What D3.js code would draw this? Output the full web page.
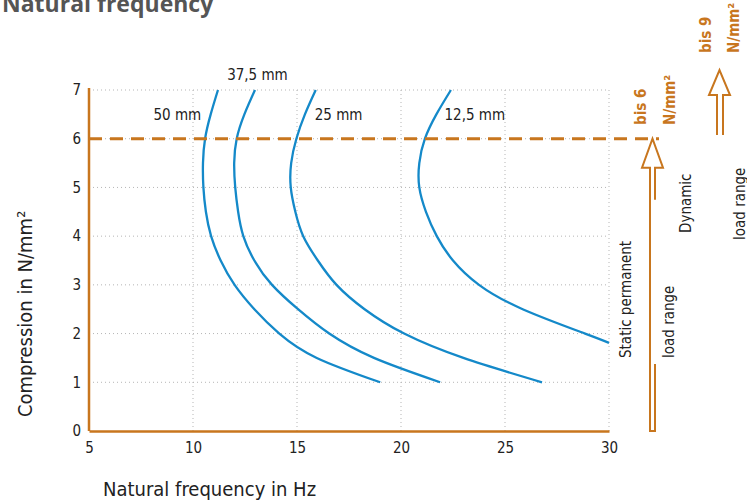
<!DOCTYPE html>
<html>
<head>
<meta charset="utf-8">
<script src="https://cdnjs.cloudflare.com/ajax/libs/d3/7.8.5/d3.min.js"></script>
<style>
    body { margin: 0; background: #fff; }
    svg text { font-family: "Liberation Sans Narrow", "DejaVu Sans Condensed", "Open Sans", sans-serif; fill: #222; }
    .grid line { stroke: #b5b5b5; stroke-width: 1; stroke-dasharray: 1, 3; }
    .curve { fill: none; stroke: #1489c9; stroke-width: 2.3; }
    .orange { fill: none; stroke: #c8761e; stroke-width: 2; }
</style>
</head>
<body>
<div id="chart-area"></div>
<script>
// compression steps in N/mm² (top to bottom) and natural frequency in Hz for each curve
const load = [7, 6.5, 6, 5.5, 5, 4.5, 4, 3.5, 3, 2.5, 2, 1.5, 1]
const hz50 = [11.2, 10.85, 10.58, 10.48, 10.5, 10.62, 10.87, 11.33, 12.0, 12.95, 14.15, 15.95, 19.0]
const hz37 = [12.98, 12.47, 12.1, 11.98, 12.03, 12.17, 12.42, 12.95, 13.8, 15.05, 16.55, 18.7, 21.88]
const hz25 = [15.9, 15.38, 14.97, 14.72, 14.7, 14.92, 15.3, 16.0, 16.9, 18.25, 20.15, 23.0, 26.78]
// 12,5 mm leaves the chart at 30 Hz
const load12 = [7, 6.5, 6, 5.5, 5, 4.5, 4, 3.5, 3, 2.5, 2, 1.81]
const hz12 = [22.4, 21.7, 21.15, 20.88, 20.88, 21.2, 21.72, 22.5, 23.75, 25.85, 28.85, 30.0]
const curveNames = ["50 mm", "37,5 mm", "25 mm", "12,5 mm"]

const xTicks = [5, 10, 15, 20, 25, 30]
const yTicks = [0, 1, 2, 3, 4, 5, 6, 7]
const staticLimit = 6

class FrequencyChart {
    constructor(_parentElement) {
        this.parentElement = _parentElement
        this.initVis()
    }
    initVis() {
        const vis = this
        vis.MARGIN = { LEFT: 89, RIGHT: 138, TOP: 90, BOTTOM: 69 }
        vis.WIDTH = 747 - vis.MARGIN.LEFT - vis.MARGIN.RIGHT
        vis.HEIGHT = 500 - vis.MARGIN.TOP - vis.MARGIN.BOTTOM

        vis.svg = d3.select(vis.parentElement).append("svg")
            .attr("width", 747)
            .attr("height", 500)

        // title, cut at the top of the picture
        vis.svg.append("text")
            .attr("x", 2)
            .attr("y", 12)
            .attr("font-size", "23px")
            .attr("font-weight", "bold")
            .style("fill", "#555")
            .style("font-family", "'Open Sans', sans-serif")
            .text("Natural frequency")

        vis.g = vis.svg.append("g")
            .attr("transform", `translate(${vis.MARGIN.LEFT}, ${vis.MARGIN.TOP})`)

        vis.x = d3.scaleLinear().domain([5, 30]).range([0, vis.WIDTH])
        vis.y = d3.scaleLinear().domain([0, 7]).range([vis.HEIGHT, 0])

        // dotted grid
        const grid = vis.g.append("g").attr("class", "grid")
        grid.selectAll(".vline")
            .data(xTicks.slice(1))
            .enter().append("line")
            .attr("x1", d => vis.x(d)).attr("x2", d => vis.x(d))
            .attr("y1", vis.y(7)).attr("y2", vis.y(0))
        grid.selectAll(".hline")
            .data(yTicks.slice(1))
            .enter().append("line")
            .attr("x1", 0).attr("x2", vis.WIDTH)
            .attr("y1", d => vis.y(d)).attr("y2", d => vis.y(d))

        // axes
        vis.xAxisCall = d3.axisBottom(vis.x).tickValues(xTicks).tickSize(0).tickPadding(11)
        vis.yAxisCall = d3.axisLeft(vis.y).tickValues(yTicks).tickSize(0).tickPadding(8)
            .tickFormat(d3.format("d"))
        vis.xAxis = vis.g.append("g")
            .attr("class", "x axis")
            .attr("transform", `translate(0, ${vis.HEIGHT})`)
            .call(vis.xAxisCall)
        vis.yAxis = vis.g.append("g")
            .attr("class", "y axis")
            .call(vis.yAxisCall)
        vis.g.selectAll(".axis text").attr("font-size", "15px").style("fill", "#222")
        vis.g.selectAll(".axis .domain")
            .attr("stroke", "#c8761e")
            .attr("stroke-width", 2.5)
        vis.yAxis.select(".domain").attr("d", `M0,${vis.HEIGHT}V-2`)

        // axis labels
        vis.g.append("text")
            .attr("x", 14)
            .attr("y", vis.HEIGHT + 65)
            .attr("font-size", "20px")
            .text("Natural frequency in Hz")
        vis.g.append("text")
            .attr("transform", "rotate(-90)")
            .attr("x", -vis.HEIGHT + 14)
            .attr("y", -57)
            .attr("font-size", "20px")
            .text("Compression in N/mm²")

        vis.updateVis()
    }
    updateVis() {
        const vis = this
        const line = d3.line()
            .x(d => vis.x(d[0]))
            .y(d => vis.y(d[1]))
            .curve(d3.curveNatural)

        const curves = [
            d3.zip(hz50, load),
            d3.zip(hz37, load),
            d3.zip(hz25, load),
            d3.zip(hz12, load12)
        ]
        vis.g.selectAll(".curve")
            .data(curves)
            .enter().append("path")
            .attr("class", "curve")
            .attr("d", line)

        // curve labels
        const labelPos = [[9.25, 6.39], [13.1, 7.2], [17.0, 6.39], [23.55, 6.39]]
        vis.g.selectAll(".curve-label")
            .data(curveNames)
            .enter().append("text")
            .attr("class", "curve-label")
            .attr("x", (d, i) => vis.x(labelPos[i][0]))
            .attr("y", (d, i) => vis.y(labelPos[i][1]))
            .attr("text-anchor", "middle")
            .attr("font-size", "15px")
            .text(d => d)

        // static limit line
        vis.g.append("line")
            .attr("x1", 0)
            .attr("x2", vis.WIDTH + 50)
            .attr("y1", vis.y(staticLimit))
            .attr("y2", vis.y(staticLimit))
            .attr("stroke", "#c8761e")
            .attr("stroke-width", 3)
            .attr("stroke-dasharray", "13,8")

        // load range arrows (in svg coords)
        const ys = vis.y(staticLimit) + vis.MARGIN.TOP
        const yb = vis.y(0) + vis.MARGIN.TOP
        vis.svg.append("path")
            .attr("class", "orange")
            .attr("d", `M655,${yb - 67}V${yb}H650V${ys + 29}H642L652.5,${ys}L663,${ys + 29}H655V${ys + 61}`)
        vis.svg.append("path")
            .attr("class", "orange")
            .attr("d", "M717,135V95H709L719.5,70L730,95H723V135")

        const rotText = (x, y, txt, bold) => {
            vis.svg.append("text")
                .attr("transform", `translate(${x}, ${y}) rotate(-90)`)
                .attr("font-size", "15px")
                .attr("font-weight", bold ? "bold" : "normal")
                .style("fill", bold ? "#c8761e" : "#222")
                .text(txt)
        }
        rotText(631, 358, "Static permanent", false)
        rotText(674, 358, "load range", false)
        rotText(691, 233, "Dynamic", false)
        rotText(745, 240, "load range", false)
        rotText(646, 125, "bis 6", true)
        rotText(675, 125, "N/mm²", true)
        rotText(711, 53, "bis 9", true)
        rotText(739, 53, "N/mm²", true)
    }
}

new FrequencyChart("#chart-area")
</script>
</body>
</html>
